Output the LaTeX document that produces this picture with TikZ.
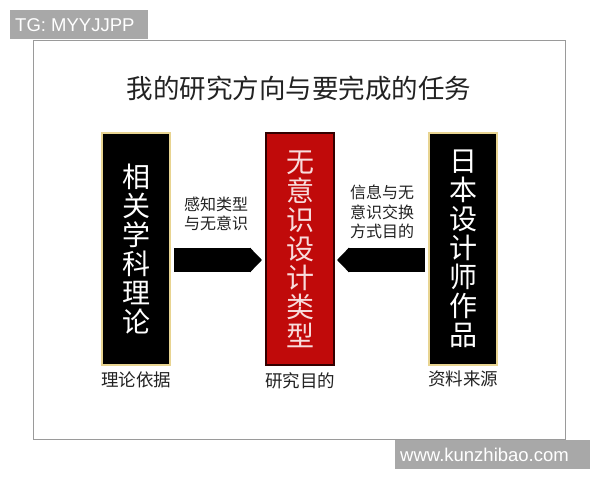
\documentclass[tikz,border=0pt]{standalone}
\usepackage{fontspec}
\setmainfont{Liberation Sans}
\newfontfamily\cjk{Noto Sans CJK SC}
\usetikzlibrary{arrows.meta}
\definecolor{tagGray}{HTML}{A8A8A8}
\definecolor{frameGray}{HTML}{9A9A9A}
\definecolor{boxRed}{HTML}{C00A0A}
\definecolor{boxGold}{HTML}{E8D491}
\definecolor{redText}{HTML}{F8DCDC}
\definecolor{txt}{HTML}{222222}
\begin{document}
\begin{tikzpicture}[x=1pt,y=-1pt,
  tagbox/.style={fill=tagGray,draw=none,inner sep=0pt,anchor=north west},
  tagtext/.style={text=white,font=\fontsize{18.5}{20}\selectfont,anchor=west,inner sep=0pt},
  colbox/.style={minimum width=68pt,minimum height=232pt,inner sep=0pt,line width=2pt,align=center,
    font=\cjk\fontsize{28}{29}\selectfont},
  blackbox/.style={colbox,fill=black,draw=boxGold,text=white},
  redbox/.style={colbox,fill=boxRed,draw=black!80!red,text=redText},
  caption/.style={font=\cjk\fontsize{17.5}{20}\selectfont,text=txt,inner sep=0pt},
  arrowlabel/.style={font=\cjk\fontsize{16}{19.5}\selectfont,text=txt,align=center,inner sep=0pt},
  bigarrow/.style={line width=24pt,draw=black,-{Triangle[width=24pt,length=12pt]}}
]
\useasboundingbox (0,0) rectangle (600,480);
\fill[white] (0,0) rectangle (600,480);
% frame
\draw[frameGray,line width=1pt] (33,40) rectangle (565,439);
% tags
\node[tagbox,minimum width=138pt,minimum height=29pt] (tgbox) at (10,10) {};
\node[tagtext] (tg) at (15,25) {TG: MYYJJPP};
\node[tagbox,minimum width=195pt,minimum height=29pt] (wwwbox) at (395,440) {};
\node[tagtext] (www) at (400,455) {www.kunzhibao.com};
% title
\node[font=\cjk\fontsize{26.5}{30}\selectfont,text=txt,inner sep=0pt] (title) at (299,88) {我的研究方向与要完成的任务};
% boxes
\node[blackbox] (L) at (136,249) {相\\关\\学\\科\\理\\论};
\node[redbox] (C) at (300,249) {无\\意\\识\\设\\计\\类\\型};
\node[blackbox] (R) at (463,249) {日\\本\\设\\计\\师\\作\\品};
% captions
\node[caption] (Lc) at (136,380) {理论依据};
\node[caption] (Cc) at (300,381) {研究目的};
\node[caption] (Rc) at (463,379) {资料来源};
% arrows
\draw[bigarrow] ([xshift=3pt,yshift=-11pt]L.east) -- ([xshift=-3pt,yshift=-11pt]C.west);
\draw[bigarrow] ([xshift=-3pt,yshift=-11pt]R.west) -- ([xshift=2pt,yshift=-11pt]C.east);
% arrow labels
\node[arrowlabel] (La) at (216,214) {感知类型\\与无意识};
\node[arrowlabel] (Ra) at (382,212) {信息与无\\意识交换\\方式目的};
\end{tikzpicture}
\end{document}
